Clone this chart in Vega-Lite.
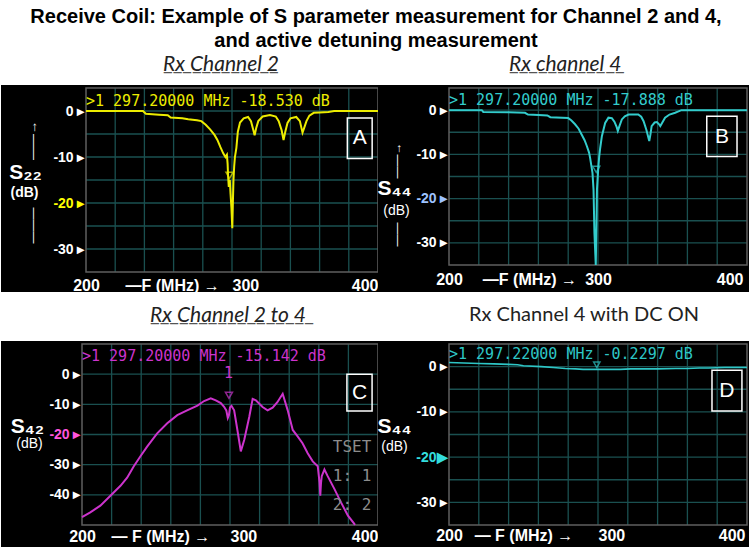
{
  "$schema": "https://vega.github.io/schema/vega-lite/v6.json",
  "background": "white",
  "padding": {"left": 1, "right": 1, "top": 7, "bottom": 0},
  "title": {
    "text": ["Receive Coil: Example of S parameter measurement for Channel 2 and 4,", "and active detuning measurement"],
    "anchor": "middle", "font": "Liberation Sans", "fontSize": 20, "fontWeight": "bold",
    "fontStyle": "normal", "color": "black", "lineHeight": 24, "offset": 2
  },
  "spacing": 10,
  "datasets": {
    "xg": [{"f": 220}, {"f": 240}, {"f": 260}, {"f": 280}, {"f": 300}, {"f": 320}, {"f": 340}, {"f": 360}, {"f": 380}],
    "yg5": [{"v": -30}, {"v": -25}, {"v": -20}, {"v": -15}, {"v": -10}, {"v": -5}, {"v": 0}],
    "yg10": [{"v": -40}, {"v": -30}, {"v": -20}, {"v": -10}, {"v": 0}],
    "a": [
      {"f": 200, "db": 0}, {"f": 220, "db": 0}, {"f": 239, "db": 0}, {"f": 241, "db": -0.6}, {"f": 250, "db": -0.8},
      {"f": 256, "db": -0.9}, {"f": 258, "db": -1.4}, {"f": 266, "db": -1.6}, {"f": 270, "db": -1.8}, {"f": 276, "db": -2.0},
      {"f": 279, "db": -2.2}, {"f": 282, "db": -3.0}, {"f": 285, "db": -4.0}, {"f": 288, "db": -5.2}, {"f": 290, "db": -6.3},
      {"f": 292, "db": -7.8}, {"f": 294, "db": -9.2}, {"f": 295.5, "db": -10.0}, {"f": 296.5, "db": -9.5}, {"f": 297, "db": -11.5},
      {"f": 297.3, "db": -14}, {"f": 297.8, "db": -16.5}, {"f": 298.5, "db": -15}, {"f": 299, "db": -18}, {"f": 299.6, "db": -21},
      {"f": 300.2, "db": -25.5}, {"f": 300.6, "db": -20}, {"f": 301, "db": -15}, {"f": 301.5, "db": -12}, {"f": 302, "db": -10},
      {"f": 303, "db": -8}, {"f": 304, "db": -4.5}, {"f": 305.5, "db": -2.5}, {"f": 308, "db": -1.6}, {"f": 311, "db": -1.3},
      {"f": 313, "db": -2.2}, {"f": 314.5, "db": -4.0}, {"f": 315.5, "db": -5.3}, {"f": 316.5, "db": -3.8}, {"f": 318, "db": -2.2},
      {"f": 321, "db": -1.2}, {"f": 326, "db": -0.9}, {"f": 330, "db": -1.2}, {"f": 332, "db": -2.2}, {"f": 334, "db": -4.2},
      {"f": 335.3, "db": -6.3}, {"f": 336.5, "db": -4.5}, {"f": 338, "db": -2.6}, {"f": 340, "db": -1.6}, {"f": 344, "db": -1.3},
      {"f": 346.5, "db": -2.2}, {"f": 348.3, "db": -4.7}, {"f": 349.5, "db": -3.6}, {"f": 351, "db": -2.2}, {"f": 353, "db": -1.0},
      {"f": 356, "db": -0.4}, {"f": 360, "db": -0.3}, {"f": 366, "db": -0.2}, {"f": 370, "db": 0}, {"f": 400, "db": 0}
    ],
    "b": [
      {"f": 200, "db": 0}, {"f": 222, "db": 0}, {"f": 223, "db": -0.4}, {"f": 240, "db": -0.5}, {"f": 251, "db": -0.6},
      {"f": 253, "db": -1.0}, {"f": 260, "db": -1.1}, {"f": 266, "db": -1.2}, {"f": 268, "db": -1.6}, {"f": 280, "db": -1.8},
      {"f": 282, "db": -2.3}, {"f": 284.6, "db": -3.2}, {"f": 287, "db": -4.2}, {"f": 289, "db": -5.5}, {"f": 291, "db": -6.8},
      {"f": 292.5, "db": -8.1}, {"f": 294, "db": -9.6}, {"f": 294.7, "db": -10.8}, {"f": 295.5, "db": -12.5}, {"f": 296.3, "db": -14.2},
      {"f": 297, "db": -18}, {"f": 297.6, "db": -27.7}, {"f": 298, "db": -31}, {"f": 298.5, "db": -35}, {"f": 299, "db": -25},
      {"f": 299.3, "db": -18}, {"f": 299.7, "db": -15.7}, {"f": 300.2, "db": -13}, {"f": 300.8, "db": -10.5}, {"f": 301.5, "db": -8.5},
      {"f": 302.6, "db": -5.9}, {"f": 304, "db": -4}, {"f": 304.8, "db": -2.9}, {"f": 307, "db": -1.7}, {"f": 309.3, "db": -1.8},
      {"f": 311, "db": -2.6}, {"f": 312.5, "db": -3.8}, {"f": 313.3, "db": -4.7}, {"f": 314.5, "db": -3.5}, {"f": 316, "db": -2.1},
      {"f": 318, "db": -1.4}, {"f": 320.5, "db": -1.0}, {"f": 327, "db": -1.0}, {"f": 329, "db": -1.5}, {"f": 330.6, "db": -2.5},
      {"f": 332.5, "db": -4.5}, {"f": 334.4, "db": -7.0}, {"f": 335.2, "db": -5.5}, {"f": 336, "db": -3.6}, {"f": 338, "db": -2.8},
      {"f": 339.5, "db": -2.7}, {"f": 341, "db": -3.2}, {"f": 341.8, "db": -3.6}, {"f": 343, "db": -2.9}, {"f": 345, "db": -1.7},
      {"f": 348, "db": -1.0}, {"f": 351.8, "db": -0.6}, {"f": 354, "db": -0.3}, {"f": 356, "db": 0}, {"f": 400, "db": 0}
    ],
    "c": [
      {"f": 200, "db": -47.4}, {"f": 205.6, "db": -45.8}, {"f": 212.4, "db": -43.6}, {"f": 219.2, "db": -40.3}, {"f": 226, "db": -37},
      {"f": 230.5, "db": -34.3}, {"f": 235, "db": -30.5}, {"f": 239.5, "db": -27.2}, {"f": 244, "db": -24}, {"f": 250.8, "db": -19.6},
      {"f": 257.6, "db": -16.3}, {"f": 264.4, "db": -13.6}, {"f": 271, "db": -12}, {"f": 278, "db": -10.4}, {"f": 282.5, "db": -8.9},
      {"f": 287, "db": -8.0}, {"f": 290.4, "db": -8.7}, {"f": 293.8, "db": -9.6}, {"f": 296, "db": -10.8}, {"f": 297.5, "db": -12},
      {"f": 298.5, "db": -14.5}, {"f": 299.3, "db": -13.5}, {"f": 300, "db": -11}, {"f": 301, "db": -10.5}, {"f": 302.8, "db": -12},
      {"f": 305, "db": -18.5}, {"f": 307.3, "db": -25.6}, {"f": 309.6, "db": -21.8}, {"f": 313, "db": -14.2}, {"f": 315.3, "db": -8.2},
      {"f": 317.5, "db": -8.7}, {"f": 322, "db": -10.9}, {"f": 325.4, "db": -12}, {"f": 328.8, "db": -11.1}, {"f": 332, "db": -9.3},
      {"f": 335.6, "db": -6.5}, {"f": 339, "db": -12}, {"f": 342.4, "db": -18.5}, {"f": 345.8, "db": -20.7}, {"f": 349, "db": -22.9},
      {"f": 352.5, "db": -26.2}, {"f": 355.9, "db": -28.9}, {"f": 359.3, "db": -30.5}, {"f": 360.5, "db": -36}, {"f": 361, "db": -40.3},
      {"f": 361.5, "db": -36}, {"f": 362, "db": -33.8}, {"f": 363.8, "db": -31.6}, {"f": 366, "db": -33.8}, {"f": 370.6, "db": -38.1},
      {"f": 375, "db": -42.5}, {"f": 379.7, "db": -46.9}, {"f": 384, "db": -49.6}, {"f": 384.4, "db": -50}
    ],
    "d": [
      {"f": 200, "db": 0.9}, {"f": 210, "db": 0.8}, {"f": 220, "db": 0.7}, {"f": 230, "db": 0.6}, {"f": 240, "db": 0.5},
      {"f": 246, "db": 0.4}, {"f": 250, "db": 0.2}, {"f": 262, "db": 0.0}, {"f": 270, "db": -0.2}, {"f": 278, "db": -0.4},
      {"f": 285, "db": -0.5}, {"f": 290, "db": -0.6}, {"f": 297, "db": -0.6}, {"f": 300, "db": -0.6}, {"f": 307, "db": -0.6},
      {"f": 315, "db": -0.6}, {"f": 322, "db": -0.5}, {"f": 329, "db": -0.5}, {"f": 340, "db": -0.5}, {"f": 352, "db": -0.4},
      {"f": 360, "db": -0.4}, {"f": 368, "db": -0.3}, {"f": 374, "db": -0.3}, {"f": 385, "db": -0.2}, {"f": 400, "db": -0.2}
    ]
  },
  "vconcat": [
    {
      "hconcat": [
        {
          "width": 377, "height": 207,
          "title": {"text": "Rx Channel 2", "subtitle": "____________", "dx": 162, "offset": 9},
          "resolve": {"axis": {"x": "independent", "y": "independent"}},
          "layer": [
            {"data": {"name": "xg"}, "mark": {"type": "rule", "color": "#1a5050", "strokeWidth": 1.3},
             "encoding": {
               "x": {"field": "f", "type": "quantitative", "scale": {"domain": [200, 400], "range": [85, 377], "nice": false, "zero": false}, "axis": null},
               "y": {"datum": -35, "type": "quantitative", "scale": {"domain": [-35, 5], "range": [187, 3], "nice": false, "zero": false}, "axis": null},
               "y2": {"datum": 5}}},
            {"data": {"name": "yg5"}, "mark": {"type": "rule", "color": "#1a5050", "strokeWidth": 1.3},
             "encoding": {
               "x": {"datum": 200, "type": "quantitative", "axis": null}, "x2": {"datum": 400},
               "y": {"field": "v", "type": "quantitative", "axis": {"orient": "left", "offset": -85, "labels": false,
                 "title": "(dB)", "titleAngle": 0, "titleX": -62, "titleY": 107, "titleFontSize": 14, "titleFontWeight": "bold"}}}},
            {"data": {"name": "yg5"}, "mark": {"type": "rule", "strokeOpacity": 0},
             "encoding": {
               "x": {"datum": 200, "type": "quantitative", "axis": null}, "x2": {"datum": 400},
               "y": {"field": "v", "type": "quantitative", "axis": {"orient": "left", "offset": -85, "labels": false,
                 "title": "——→", "titleAngle": 270, "titleX": -54, "titleY": 55, "titleFontSize": 13, "titleFontWeight": "normal"}}}},
            {"data": {"name": "yg5"}, "mark": {"type": "rule", "strokeOpacity": 0},
             "encoding": {
               "x": {"datum": 200, "type": "quantitative", "axis": null}, "x2": {"datum": 400},
               "y": {"field": "v", "type": "quantitative", "axis": {"orient": "left", "offset": -85, "labels": false,
                 "title": "———", "titleAngle": 270, "titleX": -54, "titleY": 140, "titleFontSize": 12, "titleFontWeight": "normal"}}}},
            {"data": {"values": [{}]}, "mark": {"type": "rect", "fillOpacity": 0, "stroke": "#5f5f5f", "strokeWidth": 1.5},
             "encoding": {"x": {"datum": 200, "type": "quantitative", "axis": null}, "x2": {"datum": 400},
               "y": {"datum": -35, "type": "quantitative", "axis": null}, "y2": {"datum": 5}}},
            {"data": {"name": "a"}, "mark": {"type": "line", "color": "#ecec00", "strokeWidth": 2},
             "encoding": {
               "x": {"field": "f", "type": "quantitative", "axis": {"orient": "top", "offset": -187, "labelPadding": -5, "labelBaseline": "top", "values": [200, 259, 300, 400], "title": null,
                 "labelExpr": "datum.value == 259 ? '—F (MHz)  →' : datum.value + ''",
                 "labelAlign": {"condition": [{"test": "datum.value == 400", "value": "right"}, {"test": "datum.value == 300", "value": "left"}], "value": "center"}}},
               "y": {"field": "db", "type": "quantitative", "axis": {"orient": "left", "offset": -85, "values": [0, -10, -20, -30],
                 "labelExpr": "datum.value + ' ▸'",
                 "labelColor": {"condition": {"test": "datum.value == -20", "value": "#ffff00"}, "value": "white"},
                 "title": "S₂₂", "titleAngle": 0, "titleX": -61, "titleY": 87, "titleFontSize": 21, "titleFontWeight": "bold"}}}},
            {"data": {"values": [{}]}, "mark": {"type": "point", "shape": "triangle-down", "filled": false, "color": "#ecec00", "size": 50, "strokeWidth": 1.5},
             "encoding": {"x": {"datum": 298.3, "type": "quantitative", "axis": null}, "y": {"datum": -14, "type": "quantitative", "axis": null}}},
            {"data": {"values": [{}]}, "mark": {"type": "text", "text": ">1  297.20000 MHz -18.530 dB", "align": "left", "baseline": "middle", "font": "DejaVu Sans Mono", "fontSize": 15, "color": "#ecec00"},
             "encoding": {"x": {"datum": 200, "type": "quantitative", "axis": null}, "y": {"datum": 2.2, "type": "quantitative", "axis": null}}},
            {"data": {"values": [{}]}, "mark": {"type": "rect", "fillOpacity": 0, "stroke": "white", "strokeWidth": 1.5},
             "encoding": {"x": {"datum": 379, "type": "quantitative", "axis": null}, "x2": {"datum": 396},
               "y": {"datum": -1.5, "type": "quantitative", "axis": null}, "y2": {"datum": -10.3}}},
            {"data": {"values": [{}]}, "mark": {"type": "text", "text": "A", "font": "Liberation Sans", "fontSize": 21, "color": "white", "align": "center", "baseline": "middle"},
             "encoding": {"x": {"datum": 387.5, "type": "quantitative", "axis": null}, "y": {"datum": -5.9, "type": "quantitative", "axis": null}}}
          ]
        },
        {
          "width": 371, "height": 207,
          "title": {"text": "Rx channel 4", "subtitle": "____________", "dx": 132, "offset": 9},
          "resolve": {"axis": {"x": "independent", "y": "independent"}},
          "layer": [
            {"data": {"name": "xg"}, "mark": {"type": "rule", "color": "#1a5050", "strokeWidth": 1.3},
             "encoding": {
               "x": {"field": "f", "type": "quantitative", "scale": {"domain": [200, 400], "range": [71, 369], "nice": false, "zero": false}, "axis": null},
               "y": {"datum": -35, "type": "quantitative", "scale": {"domain": [-35, 5], "range": [180, 3], "nice": false, "zero": false}, "axis": null},
               "y2": {"datum": 5}}},
            {"data": {"name": "yg5"}, "mark": {"type": "rule", "color": "#1a5050", "strokeWidth": 1.3},
             "encoding": {
               "x": {"datum": 200, "type": "quantitative", "axis": null}, "x2": {"datum": 400},
               "y": {"field": "v", "type": "quantitative", "axis": {"orient": "left", "offset": -71, "labels": false,
                 "title": "(dB)", "titleAngle": 0, "titleX": -53, "titleY": 125, "titleFontSize": 14, "titleFontWeight": "normal"}}}},
            {"data": {"name": "yg5"}, "mark": {"type": "rule", "strokeOpacity": 0},
             "encoding": {
               "x": {"datum": 200, "type": "quantitative", "axis": null}, "x2": {"datum": 400},
               "y": {"field": "v", "type": "quantitative", "axis": {"orient": "left", "offset": -71, "labels": false,
                 "title": "——→", "titleAngle": 270, "titleX": -53, "titleY": 75, "titleFontSize": 12, "titleFontWeight": "normal"}}}},
            {"data": {"name": "yg5"}, "mark": {"type": "rule", "strokeOpacity": 0},
             "encoding": {
               "x": {"datum": 200, "type": "quantitative", "axis": null}, "x2": {"datum": 400},
               "y": {"field": "v", "type": "quantitative", "axis": {"orient": "left", "offset": -71, "labels": false,
                 "title": "——", "titleAngle": 270, "titleX": -53, "titleY": 149, "titleFontSize": 12, "titleFontWeight": "normal"}}}},
            {"data": {"values": [{}]}, "mark": {"type": "rect", "fillOpacity": 0, "stroke": "#5f5f5f", "strokeWidth": 1.5},
             "encoding": {"x": {"datum": 200, "type": "quantitative", "axis": null}, "x2": {"datum": 400},
               "y": {"datum": -35, "type": "quantitative", "axis": null}, "y2": {"datum": 5}}},
            {"data": {"name": "b"}, "mark": {"type": "line", "color": "#33cccc", "strokeWidth": 2},
             "encoding": {
               "x": {"field": "f", "type": "quantitative", "axis": {"orient": "top", "offset": -180, "labelPadding": -6, "labelBaseline": "top", "values": [200, 254, 300, 400], "title": null,
                 "labelExpr": "datum.value == 254 ? '—F (MHz)  →' : datum.value + ''",
                 "labelOffset": {"condition": {"test": "datum.value == 400", "value": -4}, "value": 0},
                 "labelAlign": {"condition": [{"test": "datum.value == 400", "value": "right"}, {"test": "datum.value == 1000", "value": "left"}], "value": "center"}}},
               "y": {"field": "db", "type": "quantitative", "axis": {"orient": "left", "offset": -71, "values": [0, -10, -20, -30],
                 "labelExpr": "datum.value + ' ▸'",
                 "labelColor": {"condition": {"test": "datum.value == -20", "value": "#9ec3ff"}, "value": "white"},
                 "title": "S₄₄", "titleAngle": 0, "titleX": -55, "titleY": 103, "titleFontSize": 21, "titleFontWeight": "bold"}}}},
            {"data": {"values": [{}]}, "mark": {"type": "point", "shape": "triangle-down", "filled": false, "color": "#33cccc", "size": 50, "strokeWidth": 1.5},
             "encoding": {"x": {"datum": 298.8, "type": "quantitative", "axis": null}, "y": {"datum": -13.4, "type": "quantitative", "axis": null}}},
            {"data": {"values": [{}]}, "mark": {"type": "text", "text": ">1  297.20000 MHz -17.888 dB", "align": "left", "baseline": "middle", "font": "DejaVu Sans Mono", "fontSize": 15, "color": "#33cccc"},
             "encoding": {"x": {"datum": 200, "type": "quantitative", "axis": null}, "y": {"datum": 2.4, "type": "quantitative", "axis": null}}},
            {"data": {"values": [{}]}, "mark": {"type": "rect", "fillOpacity": 0, "stroke": "white", "strokeWidth": 1.5},
             "encoding": {"x": {"datum": 373, "type": "quantitative", "axis": null}, "x2": {"datum": 393.3},
               "y": {"datum": -1.4, "type": "quantitative", "axis": null}, "y2": {"datum": -10.5}}},
            {"data": {"values": [{}]}, "mark": {"type": "text", "text": "B", "font": "Liberation Sans", "fontSize": 21, "color": "white", "align": "center", "baseline": "middle"},
             "encoding": {"x": {"datum": 383.2, "type": "quantitative", "axis": null}, "y": {"datum": -6, "type": "quantitative", "axis": null}}}
          ]
        }
      ],
      "spacing": 0, "bounds": "flush"
    },
    {
      "hconcat": [
        {
          "width": 377, "height": 207,
          "title": {"text": "Rx Channel 2 to 4", "subtitle": "_________________", "dx": 149, "offset": 14},
          "resolve": {"axis": {"x": "independent", "y": "independent"}},
          "layer": [
            {"data": {"name": "xg"}, "mark": {"type": "rule", "color": "#1a5050", "strokeWidth": 1.3},
             "encoding": {
               "x": {"field": "f", "type": "quantitative", "scale": {"domain": [200, 400], "range": [81, 377], "nice": false, "zero": false}, "axis": null},
               "y": {"datum": -50, "type": "quantitative", "scale": {"domain": [-50, 10], "range": [184, 3], "nice": false, "zero": false}, "axis": null},
               "y2": {"datum": 10}}},
            {"data": {"name": "yg10"}, "mark": {"type": "rule", "color": "#1a5050", "strokeWidth": 1.3},
             "encoding": {
               "x": {"datum": 200, "type": "quantitative", "axis": null}, "x2": {"datum": 400},
               "y": {"field": "v", "type": "quantitative", "axis": {"orient": "left", "offset": -81, "labels": false,
                 "title": "(dB)", "titleAngle": 0, "titleX": -53, "titleY": 102, "titleFontSize": 14, "titleFontWeight": "normal"}}}},
            {"data": {"values": [{}]}, "mark": {"type": "rect", "fillOpacity": 0, "stroke": "#5f5f5f", "strokeWidth": 1.5},
             "encoding": {"x": {"datum": 200, "type": "quantitative", "axis": null}, "x2": {"datum": 400},
               "y": {"datum": -50, "type": "quantitative", "axis": null}, "y2": {"datum": 10}}},
            {"data": {"name": "c"}, "mark": {"type": "line", "color": "#cc33cc", "strokeWidth": 2},
             "encoding": {
               "x": {"field": "f", "type": "quantitative", "axis": {"orient": "top", "offset": -184, "labelPadding": -3, "labelBaseline": "top", "values": [200, 253, 300, 400], "title": null,
                 "labelExpr": "datum.value == 253 ? '— F (MHz)  →' : datum.value + ''",
                 "labelAlign": {"condition": [{"test": "datum.value == 400", "value": "right"}, {"test": "datum.value == 300", "value": "left"}], "value": "center"}}},
               "y": {"field": "db", "type": "quantitative", "axis": {"orient": "left", "offset": -81, "values": [0, -10, -20, -30, -40],
                 "labelExpr": "datum.value + ' ▸'",
                 "labelColor": {"condition": {"test": "datum.value == -20", "value": "#ff55dd"}, "value": "white"},
                 "title": "S₄₂", "titleAngle": 0, "titleX": -55, "titleY": 85, "titleFontSize": 21, "titleFontWeight": "bold"}}}},
            {"data": {"values": [{}]}, "mark": {"type": "point", "shape": "triangle-down", "filled": false, "color": "#cc33cc", "size": 50, "strokeWidth": 1.5},
             "encoding": {"x": {"datum": 299.3, "type": "quantitative", "axis": null}, "y": {"datum": -7, "type": "quantitative", "axis": null}}},
            {"data": {"values": [{}]}, "mark": {"type": "text", "text": "1", "align": "center", "baseline": "middle", "font": "DejaVu Sans Mono", "fontSize": 15, "color": "#cc33cc"},
             "encoding": {"x": {"datum": 299, "type": "quantitative", "axis": null}, "y": {"datum": 0.3, "type": "quantitative", "axis": null}}},
            {"data": {"values": [{}]}, "mark": {"type": "text", "text": ">1  297.20000 MHz -15.142 dB", "align": "left", "baseline": "middle", "font": "DejaVu Sans Mono", "fontSize": 15, "color": "#cc33cc"},
             "encoding": {"x": {"datum": 200, "type": "quantitative", "axis": null}, "y": {"datum": 6, "type": "quantitative", "axis": null}}},
            {"data": {"values": [{}]}, "mark": {"type": "text", "text": ["TSET", "1: 1", "2: 2"], "align": "center", "baseline": "middle", "font": "DejaVu Sans Mono", "fontSize": 16, "lineHeight": 29, "color": "#8c8c8c"},
             "encoding": {"x": {"datum": 382.5, "type": "quantitative", "axis": null}, "y": {"datum": -24, "type": "quantitative", "axis": null}}},
            {"data": {"values": [{}]}, "mark": {"type": "rect", "fillOpacity": 0, "stroke": "white", "strokeWidth": 1.5},
             "encoding": {"x": {"datum": 379, "type": "quantitative", "axis": null}, "x2": {"datum": 396},
               "y": {"datum": 0, "type": "quantitative", "axis": null}, "y2": {"datum": -12.2}}},
            {"data": {"values": [{}]}, "mark": {"type": "text", "text": "C", "font": "Liberation Sans", "fontSize": 21, "color": "white", "align": "center", "baseline": "middle"},
             "encoding": {"x": {"datum": 387.5, "type": "quantitative", "axis": null}, "y": {"datum": -6.1, "type": "quantitative", "axis": null}}}
          ]
        },
        {
          "width": 371, "height": 207,
          "title": {"text": "Rx Channel 4 with DC ON", "subtitle": " ", "fontStyle": "normal", "fontSize": 20, "dx": 92, "offset": 14},
          "resolve": {"axis": {"x": "independent", "y": "independent"}},
          "layer": [
            {"data": {"name": "xg"}, "mark": {"type": "rule", "color": "#1a5050", "strokeWidth": 1.3},
             "encoding": {
               "x": {"field": "f", "type": "quantitative", "scale": {"domain": [200, 400], "range": [71, 369], "nice": false, "zero": false}, "axis": null},
               "y": {"datum": -35, "type": "quantitative", "scale": {"domain": [-35, 5], "range": [184, 3], "nice": false, "zero": false}, "axis": null},
               "y2": {"datum": 5}}},
            {"data": {"name": "yg5"}, "mark": {"type": "rule", "color": "#1a5050", "strokeWidth": 1.3},
             "encoding": {
               "x": {"datum": 200, "type": "quantitative", "axis": null}, "x2": {"datum": 400},
               "y": {"field": "v", "type": "quantitative", "axis": {"orient": "left", "offset": -71, "labels": false,
                 "title": "(dB)", "titleAngle": 0, "titleX": -55, "titleY": 105, "titleFontSize": 14, "titleFontWeight": "normal"}}}},
            {"data": {"values": [{}]}, "mark": {"type": "rect", "fillOpacity": 0, "stroke": "#5f5f5f", "strokeWidth": 1.5},
             "encoding": {"x": {"datum": 200, "type": "quantitative", "axis": null}, "x2": {"datum": 400},
               "y": {"datum": -35, "type": "quantitative", "axis": null}, "y2": {"datum": 5}}},
            {"data": {"name": "d"}, "mark": {"type": "line", "color": "#2ec6c6", "strokeWidth": 1.6},
             "encoding": {
               "x": {"field": "f", "type": "quantitative", "axis": {"orient": "top", "offset": -184, "labelPadding": -2, "labelBaseline": "top", "values": [200, 250, 300, 400], "title": null,
                 "labelExpr": "datum.value == 250 ? '— F (MHz)  →' : datum.value + ''",
                 "labelOffset": {"condition": {"test": "datum.value == 400", "value": -2}, "value": 0},
                 "labelAlign": {"condition": [{"test": "datum.value == 400", "value": "right"}, {"test": "datum.value == 300", "value": "left"}], "value": "center"}}},
               "y": {"field": "db", "type": "quantitative", "axis": {"orient": "left", "offset": -71, "values": [0, -10, -20, -30],
                 "labelExpr": "datum.value == -20 ? datum.value + '▶' : datum.value + ' ▸'",
                 "labelColor": {"condition": {"test": "datum.value == -20", "value": "#33dddd"}, "value": "white"},
                 "title": "S₄₄", "titleAngle": 0, "titleX": -55, "titleY": 85, "titleFontSize": 21, "titleFontWeight": "bold"}}}},
            {"data": {"values": [{}]}, "mark": {"type": "point", "shape": "triangle-down", "filled": false, "color": "#2ec6c6", "size": 40, "strokeWidth": 1.5},
             "encoding": {"x": {"datum": 299.2, "type": "quantitative", "axis": null}, "y": {"datum": 0.4, "type": "quantitative", "axis": null}}},
            {"data": {"values": [{}]}, "mark": {"type": "text", "text": ">1  297.22000 MHz -0.2297 dB", "align": "left", "baseline": "middle", "font": "DejaVu Sans Mono", "fontSize": 15, "color": "#2ec6c6"},
             "encoding": {"x": {"datum": 200, "type": "quantitative", "axis": null}, "y": {"datum": 2.8, "type": "quantitative", "axis": null}}},
            {"data": {"values": [{}]}, "mark": {"type": "rect", "fillOpacity": 0, "stroke": "white", "strokeWidth": 1.5},
             "encoding": {"x": {"datum": 376.5, "type": "quantitative", "axis": null}, "x2": {"datum": 396.6},
               "y": {"datum": -0.8, "type": "quantitative", "axis": null}, "y2": {"datum": -9.8}}},
            {"data": {"values": [{}]}, "mark": {"type": "text", "text": "D", "font": "Liberation Sans", "fontSize": 21, "color": "white", "align": "center", "baseline": "middle"},
             "encoding": {"x": {"datum": 386.5, "type": "quantitative", "axis": null}, "y": {"datum": -5.3, "type": "quantitative", "axis": null}}}
          ]
        }
      ],
      "spacing": 0, "bounds": "flush"
    }
  ],
  "config": {
    "view": {"fill": "black", "stroke": null},
    "title": {"font": "Lato", "fontStyle": "italic", "fontWeight": "normal", "fontSize": 21, "color": "#222222", "anchor": "start", "offset": 6,
      "subtitleFont": "Lato", "subtitleFontSize": 21, "subtitleColor": "#555555", "subtitlePadding": -22},
    "axis": {"labelColor": "white", "labelFont": "Liberation Sans", "labelFontWeight": "bold", "ticks": false, "tickSize": 0, "domain": false, "grid": false,
      "titleColor": "white", "titleFont": "Liberation Sans", "titleAlign": "center", "titleBaseline": "middle", "labelOverlap": false, "labelFlush": false, "labelBound": false},
    "axisX": {"labelFontSize": 16},
    "axisY": {"labelFontSize": 14, "labelPadding": 2}
  }
}
